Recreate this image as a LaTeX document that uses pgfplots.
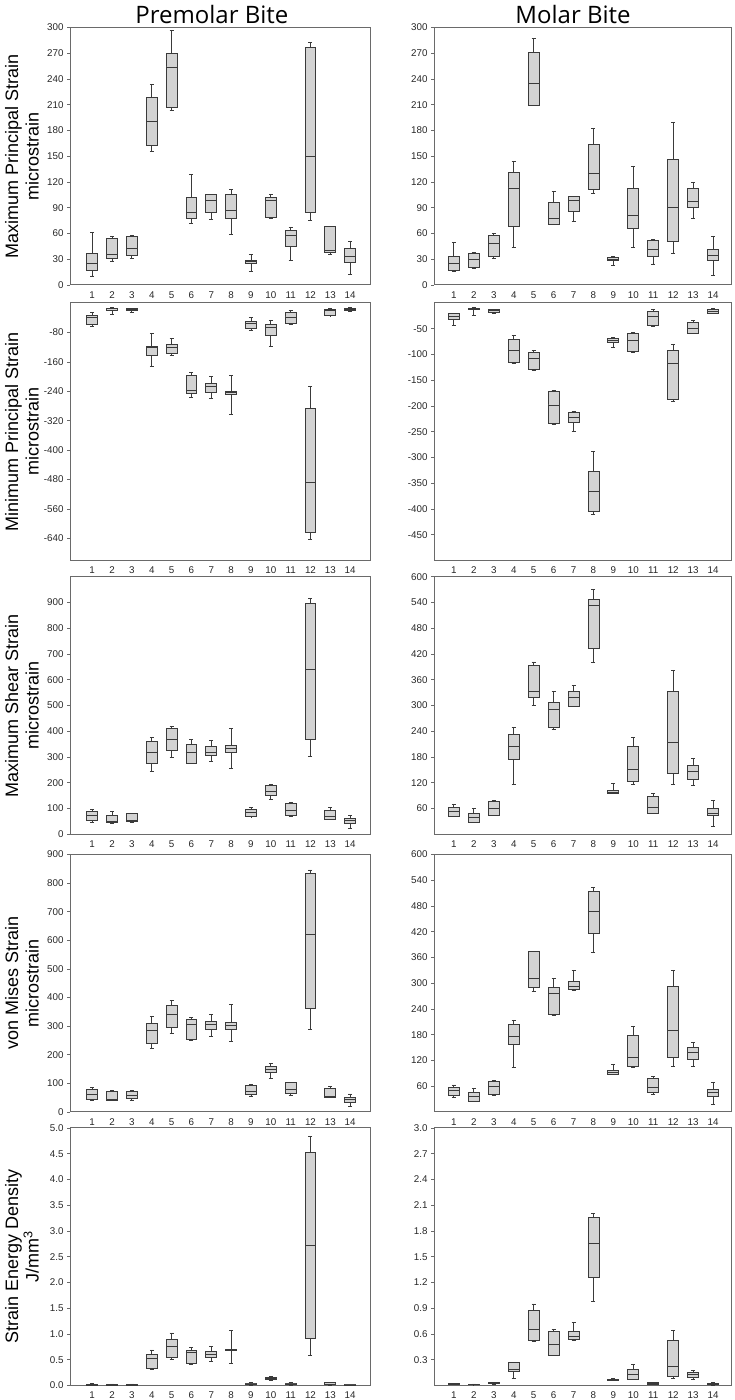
\documentclass[border=0pt]{standalone}
\usepackage{pgfplots}
\pgfplotsset{compat=1.18}
\usepackage{pgfplotstable}
\usepgfplotslibrary{statistics}
\usepackage{fontspec}
\setmainfont{Liberation Sans}
\newfontfamily\titlefont{Open Sans}
\definecolor{boxfill}{HTML}{D3D3D3}
\definecolor{boxline}{HTML}{3A3A3A}
\definecolor{frame}{HTML}{6A6A6A}

% columns: lower whisker, lower quartile, median, upper quartile, upper whisker
\pgfplotstableread{
lw lq med uq uw
10.5 17 25 37 61
28 31 35 54 56
31 34 43 57 58
155 162 190 219 234
203 207 254 270 296
72 77 84 102 129
76 84 99 106 106
59 77 87 106 111
16 25 27 29 36
77 79 98 102 106
29 45 58 64 67
75 85 150 277 282
35 38 40 68 68
12.5 26.5 33 43 51
}\pA
\pgfplotstableread{
lw lq med uq uw
16 17.5 25.6 33.4 49
19 20.6 29.5 37 38
31 33 48.5 58 60
44 68 113 131 144
209.6 209.6 235 271 287
70 71 78 96 109
74.5 86 98 103 103
107 111 130 164 182
22.5 28.3 30 32 33
43.5 66 81.5 112 138
24.5 33.4 41 52.4 53
37 50.5 90 146 189
78 90 97 112 119
11.6 29 34 41.5 56
}\pB
\pgfplotstableread{
lw lq med uq uw
-63 -58 -40 -33 -25.5
-31 -19 -16 -14.5 -12.7
-26 -21 -18 -16 -14.5
-172 -143 -121 -119 -83
-142 -137 -121 -113 -96
-257 -246 -239 -197 -189
-259 -244 -227 -219 -200
-303 -248 -244 -240 -197
-74 -69 -56 -50 -39
-118 -88 -66 -57 -47
-58 -55.5 -38 -26 -20
-642 -623 -487 -285.5 -227
-34.5 -34 -21 -18 -16
-22 -20 -17 -14.5 -12.7
}\pC
\pgfplotstableread{
lw lq med uq uw
-43.6 -32 -26 -21 -20
-24 -12.8 -11.5 -10.8 -9.6
-21 -19 -15 -13.4 -12.8
-118 -116 -92 -71 -63
-131.5 -130 -107 -96 -92
-235.5 -233.6 -198 -171 -169
-250 -231 -223 -212 -210.5
-411 -405 -365 -327 -288
-87 -75.7 -72.5 -69.3 -67.3
-97 -94 -72.5 -58.3 -57.7
-45.5 -44 -25.6 -17.3 -13.4
-192 -188 -117 -92.4 -80.8
-59.6 -58.3 -50 -37.8 -34.6
-21 -19.8 -16 -12.8 -10.2
}\pD
\pgfplotstableread{
lw lq med uq uw
46 52 72 87 95
43 46 48 75 88
46 50 55 81 81
243 277 319 360 375
297 327 367 410 417
274 274 317 348 367
284 306 319 340 363
256 317 335 344 412
68 69 86 96 105
136 152 167 189 195
69 74 91 121 123
301 368 639 897 914
56 56 69 91 103
24 43 55 63 73
}\pE
\pgfplotstableread{
lw lq med uq uw
41 42 53 63 69
27.6 27.6 39 48 60
43 44.6 61 77 78.6
116 174 204 231.5 248
299.5 318 332 393 401.5
245 248 290 306.5 332
297 297 320 332 347
400 434 534 547.5 570
95 95.6 98.6 102.5 118.7
115.6 122 150 204.5 225
48 49 62 89 95
116 142 214 334 381
114 128 146.5 161 177
19 43 49 61 78
}\pF
\pgfplotstableread{
lw lq med uq uw
42 44 60 79 85
40 41 43 71 75
42 47 57 72 75
223 240 285 310.5 335
275.5 295 340 373.5 390
249 254.5 307 322 329
264 289.5 307 316 341
247.5 289.5 304 313 377
56 61 71 92 96
117 137 147 160 170
58 65 79 103 103
287 362 622 835 846
51 51 54 84 89
19 35 45.5 52.5 63
}\pG
\pgfplotstableread{
lw lq med uq uw
35 38 51 57 63
24 24 37 46 54
38 42 60 72 74
103 158.5 177 203.5 213
280 291 312 374 375
226 227 276 290 312
283 285 293.5 305 329
371 415 466.5 514 524
87 88 92 97 110
103 105 128 178 200
41 46 57 78 82
106 127 190 292 330
105 123 139 151 162
17 37 46 52 68
}\pH
\pgfplotstableread{
lw lq med uq uw
0.005 0.01 0.02 0.03 0.035
0.005 0.01 0.015 0.025 0.03
0.005 0.01 0.015 0.025 0.03
0.32 0.34 0.52 0.6 0.69
0.5 0.54 0.76 0.89 1.02
0.41 0.43 0.65 0.69 0.74
0.47 0.54 0.61 0.67 0.76
0.43 0.69 0.70 0.705 1.07
0.01 0.02 0.03 0.04 0.05
0.09 0.12 0.14 0.155 0.175
0.01 0.02 0.03 0.04 0.05
0.59 0.92 2.71 4.53 4.83
0.01 0.02 0.03 0.05 0.06
0.0 0.005 0.01 0.015 0.02
}\pI
\pgfplotstableread{
lw lq med uq uw
0.01 0.012 0.015 0.02 0.025
0.008 0.01 0.012 0.015 0.018
0.015 0.02 0.025 0.035 0.04
0.078 0.159 0.19 0.272 0.272
0.51 0.53 0.65 0.88 0.95
0.35 0.354 0.48 0.63 0.65
0.52 0.54 0.57 0.63 0.73
0.98 1.255 1.65 1.96 2.0
0.058 0.059 0.066 0.07 0.082
0.07 0.07 0.124 0.19 0.25
0.01 0.015 0.02 0.035 0.04
0.08 0.1 0.22 0.52 0.645
0.066 0.097 0.124 0.152 0.175
0.005 0.01 0.015 0.025 0.035
}\pJ

\pgfplotsset{
  panel/.style={
    scale only axis, height=257.5pt, xtick={1,...,14},
    axis line style={draw=frame, line width=1pt},
    tick label style={font=\fontsize{9.8}{11}\selectfont, text=black!85},
    /pgf/number format/assume math mode=true,
    xtick style={draw=none}, ytick pos=left, tick align=outside,
    major tick length=3pt, ytick style={draw=frame, line width=0.7pt},
    boxplot/draw direction=y,
    ylabel style={font=\fontsize{18}{20.5}\selectfont, align=center,
      at={(axis description cs:-0.16,0.5)}, anchor=center},
    title style={font=\titlefont\fontsize{24}{28}\selectfont, anchor=base, yshift=-2.3pt},
  },
  L/.style={panel, width=300pt, xmin=-0.12, xmax=15},
  R/.style={panel, width=297pt, xmin=0, xmax=14.9},
  bx/.style={draw=boxline, fill=boxfill, line width=0.9pt, solid},
  onedec/.style={yticklabel style={/pgf/number format/.cd, fixed, fixed zerofill, precision=1}},
}

\newcommand\boxes[1]{%
  \pgfplotsinvokeforeach{0,...,13}{%
    \pgfplotstablegetelem{##1}{lw}\of{#1}\let\vlw\pgfplotsretval
    \pgfplotstablegetelem{##1}{lq}\of{#1}\let\vlq\pgfplotsretval
    \pgfplotstablegetelem{##1}{med}\of{#1}\let\vmed\pgfplotsretval
    \pgfplotstablegetelem{##1}{uq}\of{#1}\let\vuq\pgfplotsretval
    \pgfplotstablegetelem{##1}{uw}\of{#1}\let\vuw\pgfplotsretval
    \edef\doplot{\noexpand\addplot[bx, boxplot prepared={lower whisker=\vlw,
      lower quartile=\vlq, median=\vmed, upper quartile=\vuq, upper whisker=\vuw,
      draw position=##1+1, box extend=0.55, whisker extend=0.2}]
      coordinates {};}%
    \doplot
  }%
}

\begin{document}
\begin{tikzpicture}
\path[use as bounding box] (0pt,0pt) rectangle (734pt,1400pt);

% Row 1
\begin{axis}[L, at={(70pt,1115pt)}, anchor=south west,
  ymin=0, ymax=300, ytick={0,30,...,300},
  ylabel={Maximum Principal Strain\\microstrain},
  title={Premolar Bite}, title style={at={(axis description cs:0.473,1)}}]
\boxes{\pA}
\end{axis}
\begin{axis}[R, at={(434pt,1115pt)}, anchor=south west,
  ymin=0, ymax=300, ytick={0,30,...,300},
  title={Molar Bite}, title style={at={(axis description cs:0.468,1)}}]
\boxes{\pB}
\end{axis}

% Row 2
\begin{axis}[L, at={(70pt,839.5pt)}, anchor=south west,
  ymin=-700, ymax=0, ytick={-640,-560,-480,-400,-320,-240,-160,-80},
  ylabel={Minimum Principal Strain\\microstrain}]
\boxes{\pC}
\end{axis}
\begin{axis}[R, at={(434pt,839.5pt)}, anchor=south west,
  ymin=-500, ymax=0, ytick={-450,-400,-350,-300,-250,-200,-150,-100,-50}]
\boxes{\pD}
\end{axis}

% Row 3
\begin{axis}[L, at={(70pt,565.7pt)}, anchor=south west,
  ymin=0, ymax=1000, ytick={0,100,...,900},
  ylabel={Maximum Shear Strain\\microstrain}]
\boxes{\pE}
\end{axis}
\begin{axis}[R, at={(434pt,565.7pt)}, anchor=south west,
  ymin=0, ymax=600, ytick={60,120,...,600}]
\boxes{\pF}
\end{axis}

% Row 4
\begin{axis}[L, at={(70pt,288pt)}, anchor=south west,
  ymin=0, ymax=900, ytick={0,100,...,900},
  ylabel={von Mises Strain\\microstrain}]
\boxes{\pG}
\end{axis}
\begin{axis}[R, at={(434pt,288pt)}, anchor=south west,
  ymin=0, ymax=600, ytick={60,120,...,600}]
\boxes{\pH}
\end{axis}

% Row 5
\begin{axis}[L, onedec, at={(70pt,14.5pt)}, anchor=south west,
  ymin=0, ymax=5, ytick={0,0.5,1,1.5,2,2.5,3,3.5,4,4.5,5},
  ylabel={Strain Energy Density\\J/mm\textsuperscript{3}}]
\boxes{\pI}
\end{axis}
\begin{axis}[R, onedec, at={(434pt,14.5pt)}, anchor=south west,
  ymin=0, ymax=3, ytick={0.3,0.6,0.9,1.2,1.5,1.8,2.1,2.4,2.7,3.0}]
\boxes{\pJ}
\end{axis}
\end{tikzpicture}
\end{document}
